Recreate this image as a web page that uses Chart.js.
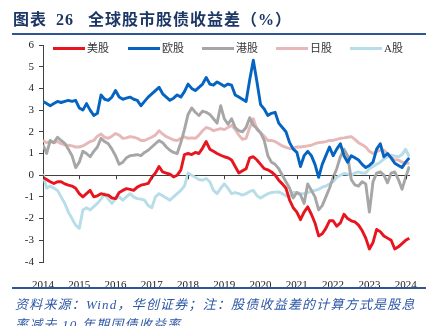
<!DOCTYPE html>
<html>
<head>
<meta charset="utf-8">
<script src="https://cdn.jsdelivr.net/npm/chart.js@4/dist/chart.umd.min.js"></script>
<style>
  html, body { margin: 0; padding: 0; background: #fff; }
  #wrap { position: relative; width: 436px; height: 326px; overflow: hidden; font-family: "Liberation Serif", "Noto Sans CJK SC", serif; }
  #chart { position: absolute; left: 0; top: 0; }
  .title { position: absolute; left: 13px; top: 6px; font-size: 16px; font-weight: bold; color: #1c3766; letter-spacing: 1px; white-space: nowrap; }
  .title .num { margin-left: 4px; margin-right: 14px; }
  .rule { position: absolute; left: 12px; width: 414px; height: 2px; background: #2f5597; }
  .legend { position: absolute; top: 39px; font-size: 11px; color: #333; white-space: nowrap; }
  .legend i { display: inline-block; width: 32px; height: 3px; vertical-align: middle; margin-right: 2px; position: relative; top: -1px; }
  .note { position: absolute; left: 15px; font-size: 13px; font-style: italic; color: #2e58a6; letter-spacing: 1.2px; white-space: nowrap; }
</style>
</head>
<body>
<div id="wrap">
  <canvas id="chart" width="436" height="326"></canvas>
  <div class="title">图表<span class="num"> 26</span>全球股市股债收益差（%）</div>
  <div class="rule" style="top:33px"></div>
  <div class="legend" style="left:53px"><i style="background:#e8141e"></i>美股</div>
  <div class="legend" style="left:128px"><i style="background:#0563c1"></i>欧股</div>
  <div class="legend" style="left:202px"><i style="background:#a6a6a6"></i>港股</div>
  <div class="legend" style="left:276px"><i style="background:#e6b9b8"></i>日股</div>
  <div class="legend" style="left:350px"><i style="background:#b7dde8"></i>A股</div>
  <div class="rule" style="top:287px"></div>
  <div class="note" style="top:294px">资料来源：Wind，华创证券；注：股债收益差的计算方式是股息</div>
  <div class="note" style="top:314px">率减去 10 年期国债收益率</div>
</div>
<script>
// 采样时间（年，约每 0.1 年一个点）
const DATES = [
  2014.0, 2014.1, 2014.2, 2014.3, 2014.4, 2014.5, 2014.6, 2014.7, 2014.8, 2014.9,
  2015.0, 2015.1, 2015.2, 2015.3, 2015.4, 2015.5, 2015.6, 2015.7, 2015.8, 2015.9,
  2016.0, 2016.1, 2016.2, 2016.3, 2016.4, 2016.5, 2016.6, 2016.7, 2016.8, 2016.9,
  2017.0, 2017.1, 2017.2, 2017.3, 2017.4, 2017.5, 2017.6, 2017.7, 2017.8, 2017.9,
  2018.0, 2018.1, 2018.2, 2018.3, 2018.4, 2018.5, 2018.6, 2018.7, 2018.8, 2018.9,
  2019.0, 2019.1, 2019.2, 2019.3, 2019.4, 2019.5, 2019.6, 2019.7, 2019.8, 2019.9,
  2020.0, 2020.1, 2020.2, 2020.3, 2020.4, 2020.5, 2020.6, 2020.7, 2020.8, 2020.9,
  2021.0, 2021.1, 2021.2, 2021.3, 2021.4, 2021.5, 2021.6, 2021.7, 2021.8, 2021.9,
  2022.0, 2022.1, 2022.2, 2022.3, 2022.4, 2022.5, 2022.6, 2022.7, 2022.8, 2022.9,
  2023.0, 2023.1, 2023.2, 2023.3, 2023.4, 2023.5, 2023.6, 2023.7, 2023.8, 2023.9,
  2024.0, 2024.1
];

// 美股
const US = [
  -0.1, -0.2, -0.3, -0.38, -0.3, -0.3, -0.4, -0.46, -0.5, -0.6,
  -0.85, -1.0, -0.85, -0.7, -1.0, -0.95, -0.85, -0.9, -0.92, -1.05,
  -1.08, -0.8, -0.7, -0.62, -0.65, -0.7, -0.55, -0.46, -0.42, -0.38,
  -0.1, 0.1, 0.4, 0.15, 0.1, 0.05, -0.08, 0.0, 0.23, 0.95,
  1.0, 0.95, 1.05, 1.0, 1.25, 1.55, 1.2, 1.1, 1.0, 0.92,
  0.85, 0.8, 0.7, 0.4, 0.1, 0.2, 0.3, 0.8, 0.85, 0.7,
  0.5, 0.3, 0.25, 0.15, 0.0, -0.23, -0.4, -0.6, -1.15, -1.5,
  -1.7, -2.05, -1.7, -1.46, -1.8, -2.2, -2.8, -2.7, -2.45, -2.1,
  -2.1, -2.35, -2.2, -1.8, -2.0, -2.1, -2.15, -2.3, -2.55, -2.9,
  -3.4, -3.1, -2.5, -2.6, -2.8, -2.9, -3.0, -3.4, -3.3, -3.15,
  -3.0, -2.9
];

// 欧股
const EU = [
  3.4, 3.3, 3.2, 3.3, 3.4, 3.35, 3.4, 3.45, 3.4, 3.45,
  3.1, 3.0, 3.3, 3.0, 2.75, 2.85, 3.7, 3.5, 3.45, 3.6,
  3.9, 3.6, 3.5, 3.55, 3.6, 3.5, 3.45, 3.2, 3.4, 3.6,
  3.75, 3.9, 4.05, 3.75, 3.6, 3.45, 3.55, 3.7, 3.6, 3.85,
  4.2, 4.0, 3.9, 4.05, 4.2, 4.5, 4.2, 4.15, 4.3, 4.2,
  4.1, 4.2, 4.15, 3.7, 3.6, 3.5, 3.4, 4.4, 5.3, 4.3,
  3.25, 3.05, 2.75, 2.85, 2.9, 2.4, 2.2, 2.0, 1.5, 1.2,
  1.05, 0.4, 0.9, 1.1, 0.9, 0.5, -0.1, 0.5, 0.9, 1.3,
  0.9, 1.2, 1.45, 0.9, 0.6, 0.9, 0.8, 0.7, 0.5, 0.35,
  0.45, 0.6, 1.2, 1.45, 0.85, 1.0, 0.8, 0.55, 0.45, 0.35,
  0.6, 0.8
];

// 港股
const HK = [
  1.4, 1.0, 1.6, 1.5, 1.75, 1.6, 1.47, 1.2, 0.9, 0.35,
  0.6, 1.1, 1.0, 0.85, 1.1, 1.3, 1.7, 1.55, 1.45, 1.2,
  0.9, 0.5, 0.6, 0.8, 0.9, 0.92, 0.95, 0.9, 1.05, 1.15,
  1.3, 1.45, 1.6, 1.5, 1.3, 1.15, 1.05, 1.0, 1.5, 2.1,
  2.8, 3.1, 2.9, 2.75, 2.95, 2.9, 2.8, 2.6, 2.4, 3.2,
  2.6, 2.35, 2.6, 2.2, 2.05, 2.0, 2.2, 2.65, 2.3, 2.15,
  1.95, 1.6, 0.9, 0.6, 0.5, 0.3, 0.0, -0.3, -0.6, -1.05,
  -0.8, -0.9, -1.3, -0.4, -0.7, -1.0, -1.6, -1.4, -1.0, -0.6,
  -0.1, 0.3, 0.85, 1.2, 0.9, -0.2, -0.45, -0.5, -0.3, -0.4,
  -1.7, -0.3, 0.1, 0.15, 0.0, -0.35, 0.1, 0.15, -0.2, -0.65,
  -0.1, 0.4
];

// 日股
const JP = [
  1.6, 1.5, 1.55, 1.5, 1.55, 1.45, 1.4, 1.38, 1.35, 1.3,
  1.3, 1.35, 1.45, 1.55, 1.6, 1.8, 1.9, 1.75, 1.7, 1.8,
  1.92, 1.85, 1.7, 1.72, 1.78, 1.75, 1.7, 1.6, 1.6, 1.68,
  1.75, 1.85, 2.05, 1.9, 1.78, 1.7, 1.62, 1.6, 1.7, 1.77,
  1.7, 1.72, 1.7, 1.85, 2.05, 2.2, 2.15, 2.05, 2.1, 2.15,
  2.1, 2.2, 2.3, 2.1, 1.85, 1.65, 1.7, 2.2, 2.6, 2.1,
  1.95, 1.8, 1.6, 1.6, 1.55, 1.45, 1.35, 1.28, 1.22, 1.25,
  1.3, 1.3, 1.32, 1.35, 1.38, 1.45, 1.5, 1.52, 1.55, 1.6,
  1.6, 1.65, 1.7, 1.72, 1.75, 1.78, 1.65, 1.5, 1.4, 1.3,
  1.1, 1.0, 1.1, 1.15, 1.15, 1.0, 0.8, 0.72, 0.7, 0.6,
  0.55, 0.55
];

// A股
const CN = [
  0.05, -0.6, -0.5, -0.6, -0.7, -1.0, -1.3, -1.7, -2.0, -2.3,
  -2.45, -1.6, -1.5, -1.6, -1.45, -1.3, -1.1, -0.85, -1.1, -1.3,
  -1.1, -1.0, -1.15, -1.0, -0.85, -1.0, -1.08, -1.1, -1.15, -1.4,
  -1.5, -1.0, -0.85, -0.95, -1.05, -1.15, -1.0, -0.85, -0.7, -0.5,
  0.1, 0.0, -0.1, -0.2, -0.23, -0.15, -0.3, -0.7, -0.85, -0.6,
  -0.4, -0.6, -0.85, -0.8, -0.85, -0.92, -0.85, -0.75, -0.7, -0.95,
  -1.05, -0.95, -0.85, -0.8, -0.78, -0.77, -0.85, -0.95, -1.0, -0.8,
  -0.8, -0.85, -0.85, -0.8, -0.75, -0.7, -0.65, -0.55, -0.5, -0.4,
  -0.3, -0.1, 0.0, 0.08, 0.05, 0.0, 0.1, 0.15, 0.1, 0.1,
  0.3, 0.4, 0.5, 0.6, 0.75, 0.85, 0.92, 0.88, 0.85, 0.95,
  1.2, 0.85
];

const YEAR_TICKS = [2014, 2015, 2016, 2017, 2018, 2019, 2020, 2021, 2022, 2023, 2024];

const AXIS_COLOR = '#404040';
const TICK_FONT = { family: '"Liberation Serif", serif', size: 11 };

function toPoints(values) {
  return values.map((v, i) => ({ x: DATES[i], y: v }));
}

function lineSet(label, values, color) {
  return {
    label: label,
    data: toPoints(values),
    borderColor: color,
    borderWidth: 2.9,
    borderJoinStyle: 'round',
    pointRadius: 0,
    tension: 0,
    fill: false
  };
}

// 零轴上的年份刻度（向下短线）
const zeroTicks = {
  id: 'zeroTicks',
  afterDatasetsDraw(chart) {
    const { ctx, scales: { x, y } } = chart;
    const y0 = y.getPixelForValue(0);
    ctx.save();
    ctx.strokeStyle = AXIS_COLOR;
    ctx.lineWidth = 1;
    ctx.beginPath();
    YEAR_TICKS.forEach(v => {
      const px = Math.round(x.getPixelForValue(v)) + 0.5;
      ctx.moveTo(px, y0);
      ctx.lineTo(px, y0 + 4);
    });
    ctx.stroke();
    ctx.restore();
  }
};

new Chart(document.getElementById('chart'), {
  type: 'line',
  data: {
    datasets: [
      lineSet('美股', US, '#e8141e'),
      lineSet('欧股', EU, '#0563c1'),
      lineSet('港股', HK, '#a6a6a6'),
      lineSet('日股', JP, '#e6b9b8'),
      lineSet('A股', CN, '#b7dde8')
    ]
  },
  options: {
    responsive: false,
    animation: false,
    events: [],
    layout: { padding: { left: 0, top: 45, right: 26, bottom: 0 } },
    plugins: { legend: { display: false }, tooltip: { enabled: false } },
    scales: {
      x: {
        type: 'linear',
        min: 2014,
        max: 2024.12,
        afterBuildTicks: s => { s.ticks = YEAR_TICKS.map(v => ({ value: v })); },
        afterFit: s => { s.height = 64; },
        grid: { display: false },
        border: { display: false },
        ticks: {
          font: TICK_FONT,
          color: '#222',
          padding: 9,
          maxRotation: 0,
          autoSkip: false,
          callback: v => String(v)
        }
      },
      y: {
        min: -4,
        max: 6,
        afterFit: s => { s.width = 43; },
        border: { display: true, color: AXIS_COLOR, width: 1 },
        grid: {
          drawOnChartArea: true,
          color: c => (c.tick && c.tick.value === 0 ? AXIS_COLOR : 'rgba(0,0,0,0)'),
          tickColor: AXIS_COLOR,
          tickLength: 4
        },
        ticks: { stepSize: 1, font: TICK_FONT, color: '#222', padding: 5 }
      }
    }
  },
  plugins: [zeroTicks]
});
</script>
</body>
</html>
